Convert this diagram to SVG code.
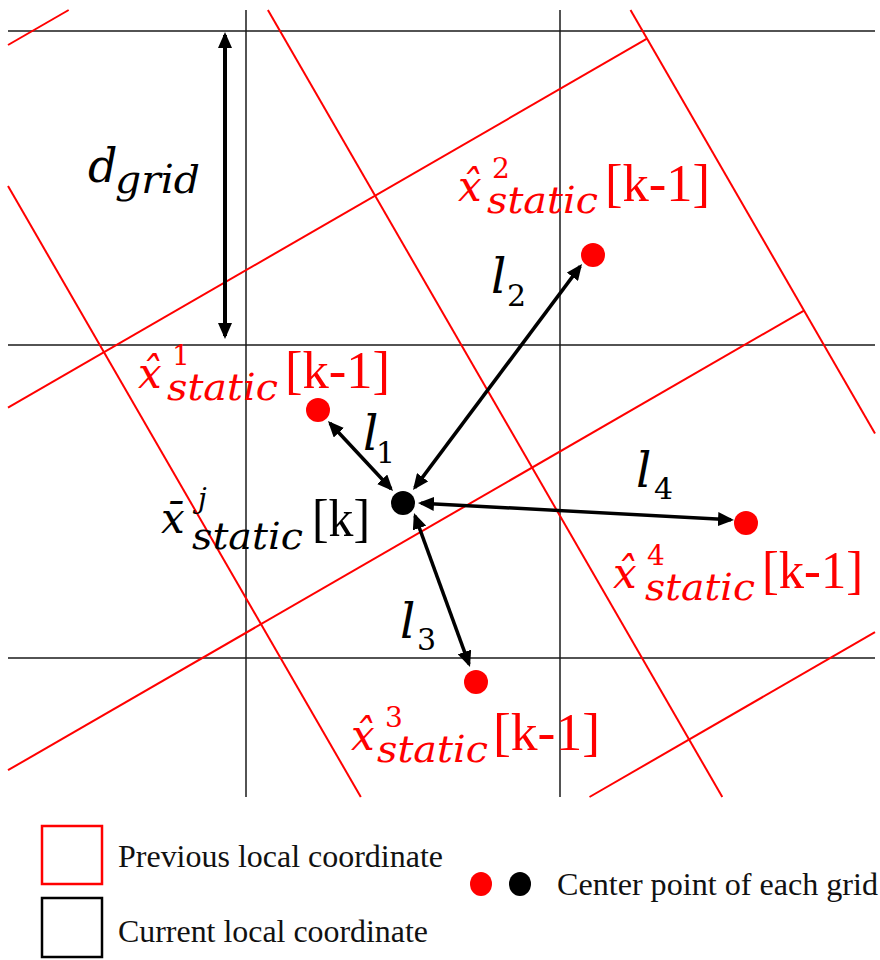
<svg xmlns="http://www.w3.org/2000/svg" width="880" height="960" viewBox="0 0 880 960">
<defs>
<style>
.bg{stroke:#1a1a1a;stroke-width:1.5;fill:none}
.rg{stroke:#ff0000;stroke-width:2;fill:none}
.ar{stroke:#000;stroke-width:3.5;fill:none;marker-start:url(#ah);marker-end:url(#ah)}
.mi{font-family:"DejaVu Serif",serif;font-style:italic}
.up{font-family:"DejaVu Serif",serif}
.rm{font-family:"Liberation Serif","Times New Roman",serif}
.red{fill:#ff0000}
.blk{fill:#000}
.lg{font-family:"Liberation Serif","Times New Roman",serif;font-size:32px;fill:#111}
</style>
<marker id="ah" viewBox="0 0 16 14" markerWidth="16" markerHeight="14" refX="13" refY="7" markerUnits="userSpaceOnUse" orient="auto-start-reverse">
<path d="M0,0 L16,7 L0,14 z" fill="#000"/>
</marker>
</defs>
<rect width="880" height="960" fill="#fff"/>
<g id="current-grid">
<line class="bg" x1="8" y1="31" x2="875" y2="31"/>
<line class="bg" x1="8" y1="345" x2="875" y2="345"/>
<line class="bg" x1="8" y1="658" x2="875" y2="658"/>
<line class="bg" x1="246" y1="10" x2="246" y2="797"/>
<line class="bg" x1="560" y1="10" x2="560" y2="797"/>
</g>
<g id="previous-grid">
<line class="rg" x1="8" y1="45" x2="68.7" y2="10"/>
<line class="rg" x1="8" y1="407.6" x2="647" y2="38.7"/>
<line class="rg" x1="8" y1="770.2" x2="804" y2="310.6"/>
<line class="rg" x1="589.5" y1="797" x2="875" y2="632.2"/>
<line class="rg" x1="8" y1="186" x2="360.8" y2="797"/>
<line class="rg" x1="267.9" y1="10" x2="722.3" y2="797"/>
<line class="rg" x1="630.5" y1="10" x2="875" y2="433.5"/>
</g>
<g id="connectors">
<line class="ar" style="stroke-width:4" x1="225" y1="35" x2="225" y2="336"/>
<line class="ar" x1="330" y1="423.2" x2="391" y2="488.8"/>
<line class="ar" x1="414.8" y1="487.6" x2="580.2" y2="266.4"/>
<line class="ar" x1="415" y1="515.8" x2="469" y2="664.2"/>
<line class="ar" x1="421" y1="503.2" x2="731" y2="519.8"/>
</g>
<g id="point-1"><circle cx="318" cy="410" r="12" fill="#ff0000"/></g>
<g id="point-2"><circle cx="593" cy="255" r="12" fill="#ff0000"/></g>
<g id="point-3"><circle cx="476" cy="682" r="12" fill="#ff0000"/></g>
<g id="point-4"><circle cx="746" cy="523" r="12" fill="#ff0000"/></g>
<g id="point-current"><circle cx="403" cy="503" r="12" fill="#000"/></g>
<g id="label-dgrid" class="blk">
<text class="mi" x="88" y="182" font-size="46">d</text>
<text class="mi" x="115" y="193" font-size="40" textLength="85" lengthAdjust="spacingAndGlyphs">grid</text>
</g>
<g id="label-1" class="red">
<text class="mi" x="138" y="388" font-size="42">x̂</text>
<text class="up" x="172" y="365" font-size="28">1</text>
<text class="mi" x="167" y="400" font-size="37" textLength="111" lengthAdjust="spacingAndGlyphs">static</text>
<text class="rm" x="285" y="388" font-size="53" textLength="105" lengthAdjust="spacingAndGlyphs">[k-1]</text>
</g>
<g id="label-2" class="red">
<text class="mi" x="458" y="201" font-size="42">x̂</text>
<text class="up" x="492" y="178" font-size="28">2</text>
<text class="mi" x="487" y="213" font-size="37" textLength="111" lengthAdjust="spacingAndGlyphs">static</text>
<text class="rm" x="605" y="201" font-size="53" textLength="105" lengthAdjust="spacingAndGlyphs">[k-1]</text>
</g>
<g id="label-3" class="red">
<text class="mi" x="351" y="750" font-size="42">x̂</text>
<text class="up" x="385" y="727" font-size="28">3</text>
<text class="mi" x="377" y="762" font-size="37" textLength="111" lengthAdjust="spacingAndGlyphs">static</text>
<text class="rm" x="493" y="750" font-size="53" textLength="107" lengthAdjust="spacingAndGlyphs">[k-1]</text>
</g>
<g id="label-4" class="red">
<text class="mi" x="613" y="588" font-size="42">x̂</text>
<text class="up" x="647" y="565" font-size="28">4</text>
<text class="mi" x="645" y="600" font-size="37" textLength="110" lengthAdjust="spacingAndGlyphs">static</text>
<text class="rm" x="762" y="588" font-size="53" textLength="101" lengthAdjust="spacingAndGlyphs">[k-1]</text>
</g>
<g id="label-current" class="blk">
<text class="mi" x="161" y="533" font-size="42">x̄</text>
<text class="mi" x="198" y="508" font-size="28">j</text>
<text class="mi" x="192" y="549" font-size="37" textLength="111" lengthAdjust="spacingAndGlyphs">static</text>
<text class="rm" x="312" y="536" font-size="53" textLength="58" lengthAdjust="spacingAndGlyphs">[k]</text>
</g>
<g id="label-l1" class="blk"><text class="mi" x="363" y="450" font-size="48">l</text><text class="up" x="376" y="463" font-size="30">1</text></g>
<g id="label-l2" class="blk"><text class="mi" x="491" y="293" font-size="48">l</text><text class="up" x="507" y="306" font-size="30">2</text></g>
<g id="label-l3" class="blk"><text class="mi" x="400" y="638" font-size="48">l</text><text class="up" x="417" y="650" font-size="30">3</text></g>
<g id="label-l4" class="blk"><text class="mi" x="636" y="487" font-size="48">l</text><text class="up" x="654" y="499" font-size="30">4</text></g>
<g id="legend">
<rect x="42" y="826" width="60" height="58" fill="none" stroke="#ff0000" stroke-width="2.5"/>
<rect x="42" y="898" width="60" height="59" fill="none" stroke="#000" stroke-width="2.5"/>
<text class="lg" x="118" y="867" textLength="325" lengthAdjust="spacingAndGlyphs">Previous local coordinate</text>
<text class="lg" x="118" y="942" textLength="310" lengthAdjust="spacingAndGlyphs">Current local coordinate</text>
<ellipse cx="481" cy="884" rx="11" ry="12" fill="#ff0000"/>
<ellipse cx="520" cy="884" rx="11" ry="12" fill="#000"/>
<text class="lg" x="557" y="895" textLength="321" lengthAdjust="spacingAndGlyphs">Center point of each grid</text>
</g>
</svg>
